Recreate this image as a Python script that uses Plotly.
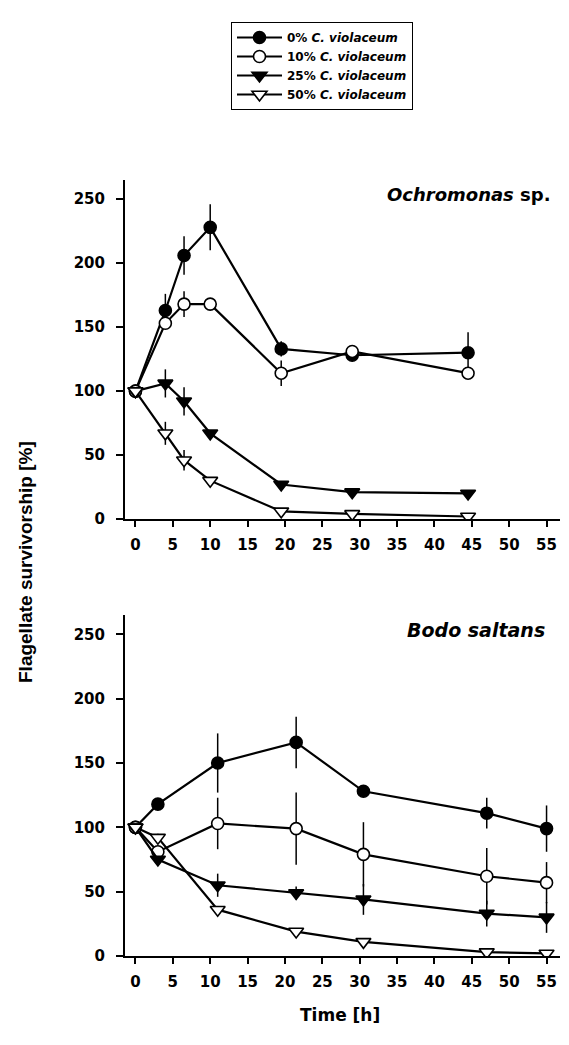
import plotly.graph_objects as go

# ---- data ----
series_names = ["0% <i>C. violaceum</i>", "10% <i>C. violaceum</i>",
                "25% <i>C. violaceum</i>", "50% <i>C. violaceum</i>"]

# Ochromonas sp. (top panel)
time_top = [0, 4, 6.5, 10, 19.5, 29, 44.5]
top_0 = [100, 163, 206, 228, 133, 128, 130]
top_0_err = [0, 13, 15, 18, 6, 0, 16]
top_10 = [100, 153, 168, 168, 114, 131, 114]
top_10_err = [0, 0, 10, 0, 10, 0, 0]
top_25 = [100, 106, 92, 67, 27, 21, 20]
top_25_err = [0, 11, 11, 0, 0, 0, 0]
top_50 = [100, 67, 46, 30, 6, 4, 2]
top_50_err = [0, 9, 8, 0, 0, 0, 0]

# Bodo saltans (bottom panel)
time_bot = [0, 3, 11, 21.5, 30.5, 47, 55]
bot_0 = [100, 118, 150, 166, 128, 111, 99]
bot_0_err = [0, 0, 23, 20, 0, 12, 18]
bot_10 = [100, 81, 103, 99, 79, 62, 57]
bot_10_err = [0, 0, 20, 28, 25, 22, 16]
bot_25 = [100, 75, 55, 49, 44, 33, 30]
bot_25_err = [0, 0, 9, 5, 12, 10, 12]
bot_50 = [100, 92, 36, 19, 11, 3, 2]
bot_50_err = [0, 3, 0, 0, 0, 0, 0]

x_ticks = [0, 5, 10, 15, 20, 25, 30, 35, 40, 45, 50, 55]
y_ticks = [0, 50, 100, 150, 200, 250]

# ---- styles ----
symbols = ["circle", "circle", "triangle-down", "triangle-down"]
fills = ["black", "white", "black", "white"]
sizes = [12, 12, 13, 13]

FONT = "DejaVu Sans, Liberation Sans, Arial"

fig = go.Figure()

top_vals = [top_0, top_10, top_25, top_50]
top_errs = [top_0_err, top_10_err, top_25_err, top_50_err]
bot_vals = [bot_0, bot_10, bot_25, bot_50]
bot_errs = [bot_0_err, bot_10_err, bot_25_err, bot_50_err]

for i in range(4):
    fig.add_trace(go.Scatter(
        x=time_top, y=top_vals[i], name=series_names[i],
        mode="lines+markers", xaxis="x", yaxis="y",
        line=dict(color="black", width=2.2),
        marker=dict(symbol=symbols[i], size=sizes[i], color=fills[i],
                    line=dict(color="black", width=1.6)),
        error_y=dict(type="data", array=top_errs[i], width=0,
                     thickness=1.5, color="black"),
        legendgroup=str(i), showlegend=True,
    ))
for i in range(4):
    fig.add_trace(go.Scatter(
        x=time_bot, y=bot_vals[i], name=series_names[i],
        mode="lines+markers", xaxis="x2", yaxis="y2",
        line=dict(color="black", width=2.2),
        marker=dict(symbol=symbols[i], size=sizes[i], color=fills[i],
                    line=dict(color="black", width=1.6)),
        error_y=dict(type="data", array=bot_errs[i], width=0,
                     thickness=1.5, color="black"),
        legendgroup=str(i), showlegend=False,
    ))

tickfont = dict(family=FONT, size=15, color="black", weight="bold")
xaxis_common = dict(range=[-1.4, 56.8], tickvals=x_ticks, ticks="outside",
                    ticklen=6, tickwidth=1.5, tickcolor="black",
                    ticklabelstandoff=5,
                    showline=True, linecolor="black", linewidth=2,
                    showgrid=False, zeroline=False, tickfont=tickfont)
yaxis_common = dict(range=[0, 265], tickvals=y_ticks, ticks="outside",
                    ticklen=7, tickwidth=1.5, tickcolor="black",
                    ticklabelstandoff=8,
                    showline=True, linecolor="black", linewidth=2,
                    showgrid=False, zeroline=False, tickfont=tickfont)

fig.update_layout(
    width=569, height=1045,
    margin=dict(l=125, r=9, t=180, b=89, autoexpand=False),
    paper_bgcolor="white", plot_bgcolor="white",
    xaxis=dict(domain=[0, 1], anchor="y", automargin=False, **xaxis_common),
    yaxis=dict(domain=[0.5631, 1.0], anchor="x", automargin=False, **yaxis_common),
    xaxis2=dict(domain=[0, 1], anchor="y2", automargin=False, **xaxis_common),
    yaxis2=dict(domain=[0.0, 0.4394], anchor="x2", automargin=False, **yaxis_common),
    showlegend=True,
    legend=dict(xref="paper", yref="paper", x=(231 - 125) / 435,
                y=(956 - 22) / 776,
                xanchor="left", yanchor="top", bgcolor="white",
                bordercolor="black", borderwidth=1,
                font=dict(family=FONT, size=12, color="black", weight="bold"),
                itemwidth=45, tracegroupgap=0),
    annotations=[
        dict(text="<i>Ochromonas</i> sp.", xref="paper", yref="paper",
             x=0.984, y=0.9807, xanchor="right", yanchor="middle",
             showarrow=False,
             font=dict(family=FONT, size=18, color="black", weight="bold")),
        dict(text="<i>Bodo saltans</i>", xref="paper", yref="paper",
             x=0.97, y=(956 - 630) / 776, xanchor="right", yanchor="middle",
             showarrow=False,
             font=dict(family=FONT, size=19, color="black", weight="bold")),
        dict(text="Flagellate survivorship [%]", xref="paper", yref="paper",
             x=(25 - 125) / 435, y=(956 - 562) / 776, xanchor="center",
             yanchor="middle", textangle=-90, showarrow=False,
             font=dict(family="Liberation Sans, Arial", size=19, color="black", weight="bold")),
        dict(text="Time [h]", xref="paper", yref="paper",
             x=(340 - 125) / 435, y=(956 - 1015) / 776, xanchor="center",
             yanchor="middle", showarrow=False,
             font=dict(family=FONT, size=17, color="black", weight="bold")),
    ],
)

fig.write_html("out.html")
